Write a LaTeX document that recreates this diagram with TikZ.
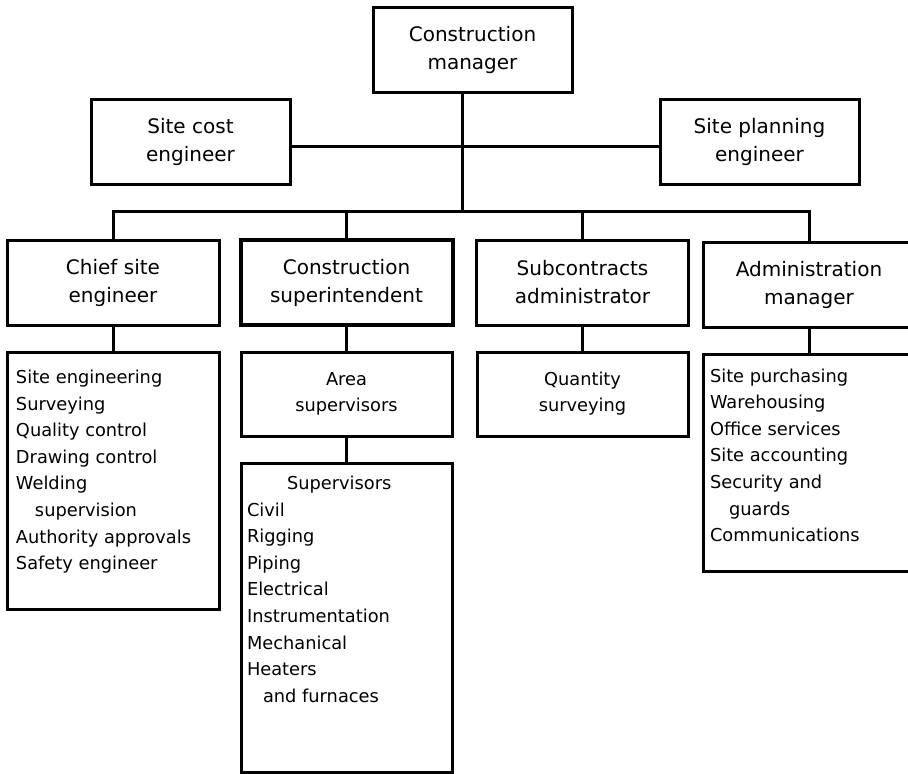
\documentclass[tikz,border=0pt]{standalone}
\usepackage{fontspec}
\setmainfont{DejaVu Sans}
\usetikzlibrary{positioning, calc}

\begin{document}
\begin{tikzpicture}[
    % 1 unit = 1 px of the 908x774 layout, y grows downwards
    x=1pt, y=-1pt,
    every node/.style={font=\fontsize{17.8}{26.6}\selectfont},
    box/.style={draw, line width=3, minimum width=212, minimum height=85,
                align=center, inner sep=0pt, font=\fontsize{20}{28}\selectfont},
    subbox/.style={box, minimum width=211, minimum height=84,
                   font=\fontsize{17.8}{26}\selectfont},
    listbox/.style={draw, line width=3, anchor=north west, outer sep=0pt,
                    inner xsep=9pt, inner ysep=0pt},
    link/.style={line width=3}
  ]
  \useasboundingbox (0,0) rectangle (908,774);

  % ── Top: manager and staff engineers ──────────────────────────────────
  \node[box, minimum width=199] (mgr)  at (472.5, 49.5) {Construction\\manager};
  \node[box, minimum width=199] (cost) at (190.5,141.5) {Site cost\\engineer};
  \node[box, minimum width=199] (plan) at (759.5,141.5) {Site planning\\engineer};

  \coordinate (hub)  at (462,146);
  \coordinate (fork) at (462,211);

  \draw[link] (mgr.south -| hub) -- (fork);
  \draw[link] (cost.east |- hub) -- (plan.west |- hub);

  % ── Second row: the four departments ──────────────────────────────────
  \node[box]                 (chief) at (113,  282.5) {Chief site\\engineer};
  \node[box, line width=4]   (sup)   at (346.5,282.5) {Construction\\superintendent};
  \node[box]                 (sub)   at (582.5,282.5) {Subcontracts\\administrator};
  \node[box]                 (adm)   at (809,  284.5) {Administration\\manager};

  \draw[link] (chief.north) -- (chief.north |- fork) -- (adm.north |- fork) -- (adm.north);
  \draw[link] (sup.north) -- (sup.north |- fork);
  \draw[link] (sub.north) -- (sub.north |- fork);

  % ── Third row: duties under each department ───────────────────────────
  \node[listbox] (englist) at (7,352)
        {\parbox[t][257pt][t]{194pt}{\vspace{18pt}Site engineering\\
         Surveying\\Quality control\\Drawing control\\Welding\\
         \hspace*{19pt}supervision\\Authority approvals\\Safety engineer}};
  \node[subbox] (area) at (346.5,394) {Area\\supervisors};
  \node[subbox] (qs)   at (582.5,394) {Quantity\\surveying};
  \node[listbox, inner xsep=7pt] (admlist) at (703,354)
        {\parbox[t][217pt][t]{198pt}{\vspace{14.5pt}Site purchasing\\
         Warehousing\\Office services\\Site accounting\\Security and\\
         \hspace*{19pt}guards\\Communications}};

  \draw[link] (chief.south) -- (englist.north);
  \draw[link] (sup.south)   -- (area.north);
  \draw[link] (sub.south)   -- (qs.north);
  \draw[link] (adm.south)   -- (admlist.north);

  % ── Bottom: supervisors under the area supervisors ────────────────────
  \node[listbox, inner xsep=6pt] (supv) at (241,463)
        {\parbox[t][309pt][t]{199pt}{\vspace{13pt}\hspace*{40pt}Supervisors\\
         Civil\\Rigging\\Piping\\Electrical\\Instrumentation\\Mechanical\\
         Heaters\\\hspace*{16pt}and furnaces}};

  \draw[link] (area.south) -- (supv.north);

\end{tikzpicture}
\end{document}
